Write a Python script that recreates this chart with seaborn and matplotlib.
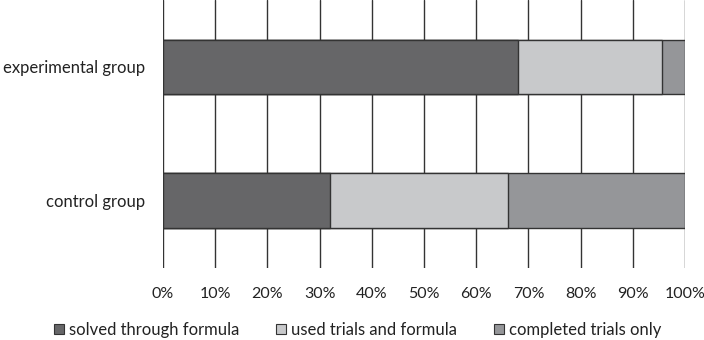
import matplotlib
matplotlib.use("Agg")
import matplotlib.pyplot as plt
import seaborn as sns
import pandas as pd
import numpy as np
from matplotlib.patches import Patch

groups = ["experimental group", "control group"]
solved_formula = [68.0, 32.0]
trials_and_formula = [27.5, 34.0]
trials_only = [4.5, 34.0]
series_names = ["solved through formula", "used trials and formula", "completed trials only"]
colors = ["#666668", "#c8c9cb", "#959699"]
x_ticks = [0, 10, 20, 30, 40, 50, 60, 70, 80, 90, 100]

sns.set_theme(style="white")
plt.rcParams['font.family'] = ['Lato', 'DejaVu Sans']

fig = plt.figure(figsize=(7.04, 3.40), dpi=100)
ax = fig.add_axes([0.2315, 0.212, 0.7415, 0.788])

s1 = np.array(solved_formula)
s2 = s1 + np.array(trials_and_formula)
s3 = s2 + np.array(trials_only)
df = pd.DataFrame({"group": groups, "c1": s1, "c2": s2, "c3": s3})

for col, color in zip(["c3", "c2", "c1"], colors[::-1]):
    sns.barplot(data=df, y="group", x=col, orient="h", order=groups, color=color,
                edgecolor="#333333", linewidth=1.0, width=0.41, saturation=1, ax=ax, zorder=3)

ax.set_xlim(0, 100)
ax.set_ylim(1.5, -0.5)
ax.set_xticks(x_ticks)
ax.set_xticklabels([f"{v}%" for v in x_ticks], fontsize=11.5, color="#222222")
ax.tick_params(axis="x", length=0, pad=14)
ax.tick_params(axis="y", length=0, pad=13, labelsize=12, labelcolor="#222222")
ax.set_xlabel("")
ax.set_ylabel("")
for v in x_ticks:
    ax.axvline(v, color="#333333", linewidth=1.0, zorder=1)
for s in ax.spines.values():
    s.set_visible(False)

handles = [Patch(facecolor=c, edgecolor="#333333", linewidth=0.8, label=n)
           for c, n in zip(colors, series_names)]
fig.legend(handles=handles, loc="center", bbox_to_anchor=(0.508, 0.03), ncol=3, frameon=False,
           fontsize=12, handlelength=0.6, handleheight=0.6, handletextpad=0.3,
           columnspacing=2.2, labelcolor="#222222")

fig.savefig("out.png", dpi=100)
